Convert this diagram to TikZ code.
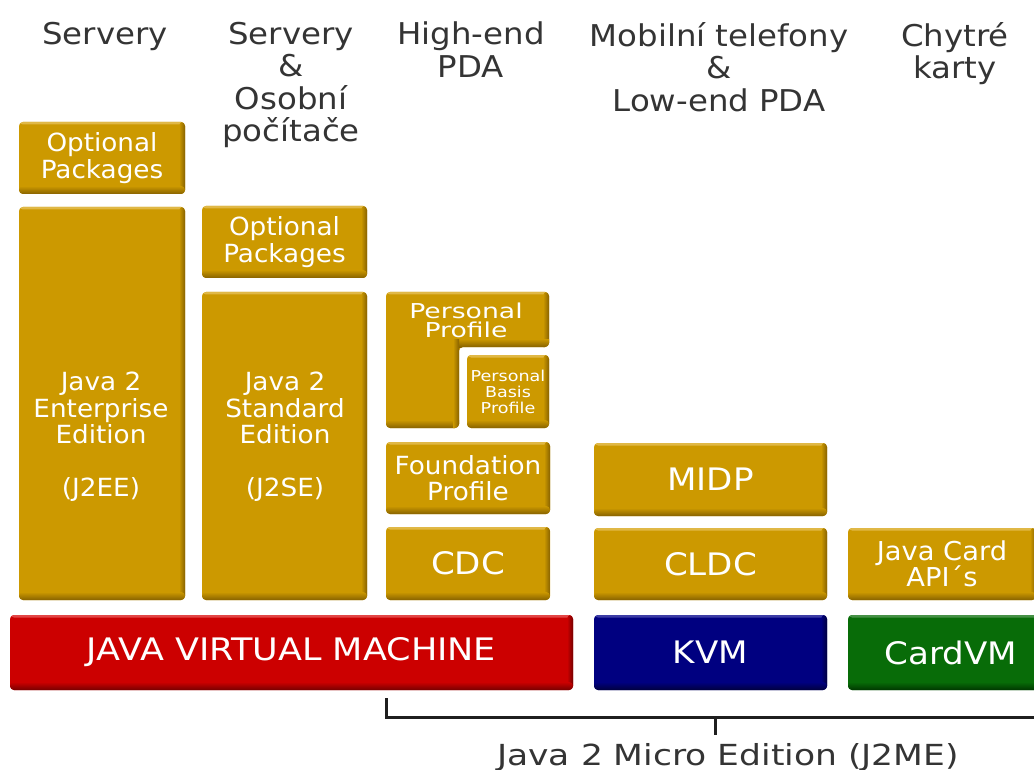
\documentclass[tikz,border=0pt]{standalone}
\usepackage{fontspec}
\setmainfont{DejaVu Sans}
\newfontfamily\hfont[FakeStretch=1.08]{DejaVu Sans}
\newfontfamily\ppfont[FakeStretch=1.3]{DejaVu Sans}
\newfontfamily\pbfont[FakeStretch=1.17]{DejaVu Sans}
\newfontfamily\gfont[FakeStretch=1.05]{DejaVu Sans}
\newfontfamily\bfont[FakeStretch=1.1]{DejaVu Sans}
\newfontfamily\jvmfont[FakeStretch=1.13]{DejaVu Sans}
\newfontfamily\jfont[FakeStretch=1.19]{DejaVu Sans}
\definecolor{gold}{RGB}{204,153,0}
\definecolor{golddk}{RGB}{135,98,0}
\definecolor{goldlt}{RGB}{224,184,70}
\definecolor{jred}{RGB}{204,0,0}
\definecolor{jreddk}{RGB}{118,0,0}
\definecolor{jredlt}{RGB}{226,70,70}
\definecolor{jblue}{RGB}{0,0,128}
\definecolor{jbluedk}{RGB}{0,0,62}
\definecolor{jbluelt}{RGB}{60,60,165}
\definecolor{jgreen}{RGB}{8,108,8}
\definecolor{jgreendk}{RGB}{0,55,0}
\definecolor{jgreenlt}{RGB}{70,145,70}
\definecolor{headgray}{RGB}{52,52,52}
\tikzset{
  box/.style={rounded corners=4pt, inner sep=0pt, text=white, align=center, fill=#1,
    path picture={
      \fill[#1lt] (path picture bounding box.north west) rectangle ([yshift=-2.5pt]path picture bounding box.north east);
      \shade[left color=#1, right color=#1dk] ([xshift=-6pt]path picture bounding box.north east) rectangle (path picture bounding box.south east);
      \shade[top color=#1, bottom color=#1dk] ([yshift=8pt]path picture bounding box.south west) rectangle (path picture bounding box.south east);
    }},
  gtext/.style={font=\gfont\fontsize{25}{26.5}\selectfont},
  bigtext/.style={font=\bfont\fontsize{31}{33}\selectfont},
  wtext/.style={text=white, align=center, inner sep=0pt},
  head/.style={text=headgray, align=center, inner sep=0pt, anchor=north, font=\hfont\fontsize{30}{32.5}\selectfont},
  bracket/.style={line width=3pt, draw=black!88},
}
\begin{document}
\begin{tikzpicture}[x=1pt,y=-1pt]
\useasboundingbox (0,0) rectangle (1034,770);
% headings
\node[head] (h1) at (105,22) {Servery};
\node[head] (h2) at (291,22) {Servery\\\&\\Osobní\\počítače};
\node[head] (h3) at (471,22) {High-end\\PDA};
\node[head] (h4) at (719,22) {Mobilní telefony\\\&\\Low-end PDA};
\node[head] (h5) at (955,22) {Chytré\\karty};
% column 1
\node[box=gold, gtext, minimum width=166pt, minimum height=72pt] (opt1) at (102,158) {Optional\\Packages};
\node[box=gold, minimum width=166pt, minimum height=393pt] (j2ee) at (102,403.5) {};
\node[wtext, gtext, anchor=north] (j2eet) at (101,372) {Java 2\\Enterprise\\Edition\\[26.5pt](J2EE)};
% column 2
\node[box=gold, gtext, minimum width=165pt, minimum height=72pt] (opt2) at (284.5,242) {Optional\\Packages};
\node[box=gold, minimum width=165pt, minimum height=308pt] (j2se) at (284.5,446) {};
\node[wtext, gtext, anchor=north] (j2set) at (285,372) {Java 2\\Standard\\Edition\\[26.5pt](J2SE)};
% column 3
\path[box=gold] (386,292) -- (549,292) -- (549,347) -- (459,347) -- (459,428) -- (386,428) -- cycle;
\begin{scope}
  \clip[rounded corners=4pt] (386,292) -- (549,292) -- (549,347) -- (459,347) -- (459,428) -- (386,428) -- cycle;
  \shade[top color=gold, bottom color=golddk] (459,339) rectangle (549,347);
  \shade[left color=gold, right color=golddk] (453,339) rectangle (459,428);
\end{scope}
\node[wtext, font=\ppfont\fontsize{20.5}{19}\selectfont] (pp) at (466,320) {Personal\\Profile};
\node[box=gold, font=\pbfont\fontsize{15}{16}\selectfont, minimum width=82pt, minimum height=73pt] (pbp) at (508,391.5) {Personal\\Basis\\Profile};
\node[box=gold, gtext, minimum width=164pt, minimum height=72pt] (fp) at (468,478) {Foundation\\Profile};
\node[box=gold, bigtext, minimum width=164pt, minimum height=73pt] (cdc) at (468,563.5) {CDC};
% column 4
\node[box=gold, bigtext, minimum width=233pt, minimum height=73pt] (midp) at (710.5,479.5) {MIDP};
\node[box=gold, bigtext, minimum width=233pt, minimum height=72pt] (cldc) at (710.5,564) {CLDC};
% column 5
\node[box=gold, font=\gfont\fontsize{26}{26}\selectfont, minimum width=188pt, minimum height=72pt] (jc) at (942,564) {Java Card\\API´s};
% virtual machines
\node[box=jred, font=\jvmfont\fontsize{31}{33}\selectfont, minimum width=563pt, minimum height=75pt] (jvm) at (291.5,652.5) {JAVA VIRTUAL MACHINE};
\node[box=jblue, bigtext, minimum width=233pt, minimum height=75pt] (kvm) at (710.5,652.5) {KVM};
\node[box=jgreen, bigtext, minimum width=206pt, minimum height=75pt] (cvm) at (951,652.5) {CardVM};
% bracket
\coordinate (b1) at (386,698);
\coordinate (b2) at (386,717);
\coordinate (b3) at (1040,717);
\coordinate (t1) at (715,717);
\coordinate (t2) at (715,735);
\draw[bracket] (b1) -- (b2) -- (b3);
\draw[bracket] (t1) -- (t2);
\node[text=headgray, inner sep=0pt, anchor=base, font=\jfont\fontsize{29}{30}\selectfont] (j2me) at (728,765) {Java 2 Micro Edition (J2ME)};
\end{tikzpicture}
\end{document}
